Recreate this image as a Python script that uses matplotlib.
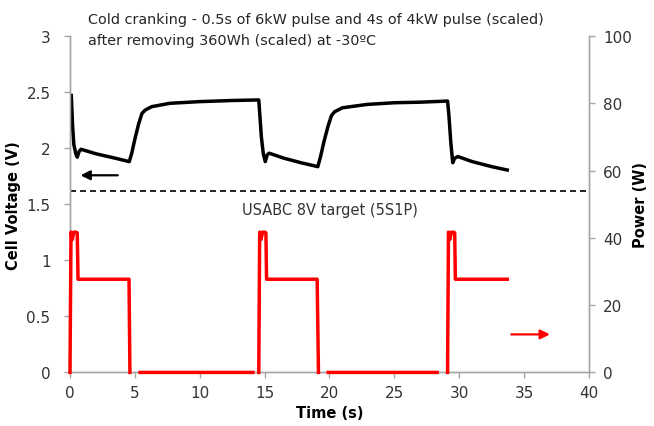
import numpy as np
import matplotlib
matplotlib.use("Agg")
import matplotlib.pyplot as plt

# ---- data ----
volt_t = [0.1, 0.2, 0.3, 0.45, 0.56, 0.7, 0.85, 2.0, 3.5, 4.57, 4.75, 5.0, 5.3, 5.55, 5.8, 6.3, 7.7, 10.0, 12.5, 14.55,
          14.6, 14.75, 14.9, 15.05, 15.2, 15.35, 16.5, 17.8, 19.1, 19.3, 19.6, 19.9, 20.15, 20.4, 21.0, 22.9, 25.0, 27.0, 29.1,
          29.2, 29.35, 29.5, 29.65, 29.9, 31.0, 32.5, 33.7]
volt_v = [2.47, 2.2, 2.03, 1.95, 1.92, 1.97, 1.99, 1.95, 1.91, 1.88, 1.95, 2.08, 2.22, 2.31, 2.34, 2.37, 2.40, 2.415, 2.425, 2.43,
          2.35, 2.10, 1.95, 1.88, 1.94, 1.955, 1.91, 1.87, 1.835, 1.92, 2.07, 2.20, 2.29, 2.325, 2.36, 2.39, 2.405, 2.41, 2.42,
          2.30, 2.05, 1.87, 1.91, 1.925, 1.88, 1.835, 1.805]

power_t = [0.0, 0.08, 0.18, 0.3, 0.45, 0.56, 0.62, 4.55, 4.62, None,
           5.4, 14.1, None,
           14.55, 14.62, 14.72, 14.85, 15.0, 15.1, 15.15, 19.05, 19.15, None,
           19.9, 28.3, None,
           29.1, 29.17, 29.27, 29.4, 29.55, 29.65, 29.7, 33.7]
power_w = [0.0, 41.7, 39.5, 41.7, 41.7, 41.5, 27.7, 27.7, 0.0, None,
           0.0, 0.0, None,
           0.0, 41.7, 39.5, 41.7, 41.7, 41.5, 27.7, 27.7, 0.0, None,
           0.0, 0.0, None,
           0.0, 41.7, 39.5, 41.7, 41.7, 41.5, 27.7, 27.7]

target_v = 1.62
x_ticks = [0, 5, 10, 15, 20, 25, 30, 35, 40]
v_ticks = [0, 0.5, 1, 1.5, 2, 2.5, 3]
v_ticklabels = ["0", "0.5", "1", "1.5", "2", "2.5", "3"]
p_ticks = [0, 20, 40, 60, 80, 100]
title_lines = ["Cold cranking - 0.5s of 6kW pulse and 4s of 4kW pulse (scaled)",
               "after removing 360Wh (scaled) at -30ºC"]
target_label = "USABC 8V target (5S1P)"

# ---- figure ----
plt.rcParams['font.family'] = ['DejaVu Sans']
fig = plt.figure(figsize=(6.54, 4.27), dpi=100)
ax = fig.add_axes([0.107, 0.1255, 0.7936, 0.7878])
ax2 = ax.twinx()

spine_col = '#a6a6a6'
tick_col = '#333333'
for a in (ax, ax2):
    a.spines['top'].set_visible(False)
    for s in ('left', 'right', 'bottom'):
        a.spines[s].set_color(spine_col)
        a.spines[s].set_linewidth(1.0)
    a.tick_params(direction='out', length=4, width=1.0, color=spine_col,
                  labelcolor=tick_col, labelsize=11)
    a.set_facecolor('none')

ax.set_xlim(0, 40)
ax.set_ylim(0, 3)
ax2.set_ylim(0, 100)
ax.set_xticks(x_ticks)
ax.set_xticklabels([str(x) for x in x_ticks])
ax.set_yticks(v_ticks)
ax.set_yticklabels(v_ticklabels)
ax2.set_yticks(p_ticks)
ax.tick_params(axis='x', pad=5)
ax.tick_params(axis='y', pad=10)
ax2.tick_params(axis='y', pad=6)

ax.plot(volt_t, volt_v, color='black', lw=2.5, solid_joinstyle='round', zorder=3)
pt = np.array([np.nan if v is None else v for v in power_t], dtype=float)
pw = np.array([np.nan if v is None else v for v in power_w], dtype=float)
ax2.plot(pt, pw, color='#ff0000', lw=2.5, solid_joinstyle='round', clip_on=False, zorder=3)

ax.axhline(target_v, color='black', lw=1.2, dashes=(3.6, 2.4))
ax.text(20.0, target_v - 0.1, target_label, ha='center', va='top', fontsize=10.5, color='#333333')

# arrows
ax.annotate('', xy=(0.6, 1.758), xytext=(3.9, 1.758),
            arrowprops=dict(arrowstyle='-|>', color='black', lw=1.6, mutation_scale=14))
ax2.annotate('', xy=(37.2, 11.3), xytext=(33.8, 11.3),
             arrowprops=dict(arrowstyle='-|>', color='#ff0000', lw=1.6, mutation_scale=14))

ax.set_xlabel('Time (s)', fontsize=10.5, fontweight='bold', labelpad=4)
ax.set_ylabel('Cell Voltage (V)', fontsize=10.5, fontweight='bold')
ax2.set_ylabel('Power (W)', fontsize=10.5, fontweight='bold', rotation=90)
ax.yaxis.set_label_coords((21 - 70) / 519, 0.5)
ax2.yaxis.set_label_coords((633 - 70) / 519, 0.5)

fig.text(88 / 654, 1 - 20 / 427, title_lines[0], fontsize=10.4, color='#262626', va='center', ha='left')
fig.text(88 / 654, 1 - 41 / 427, title_lines[1], fontsize=10.4, color='#262626', va='center', ha='left')

fig.savefig('out.png', dpi=100)
